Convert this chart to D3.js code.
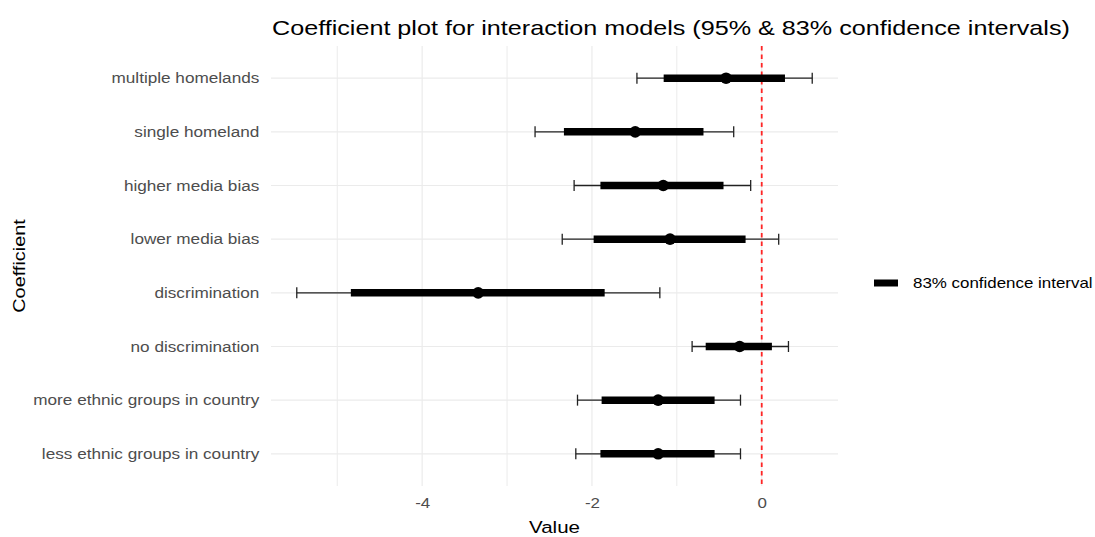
<!DOCTYPE html>
<html>
<head>
<meta charset="utf-8">
<script src="https://cdn.jsdelivr.net/npm/d3@7"></script>
<style>
  body { margin: 0; background: #fff; }
  svg { font-family: "Liberation Sans", Arial, sans-serif; }
</style>
</head>
<body>
<svg></svg>
<script>
// Datos
var w = 1095,
    h = 537;

var categories = ['multiple homelands', 'single homeland', 'higher media bias', 'lower media bias',
    'discrimination', 'no discrimination', 'more ethnic groups in country', 'less ethnic groups in country'];
var estimate = [-0.42, -1.49, -1.16, -1.08, -3.34, -0.26, -1.22, -1.22];
var lo95 = [-1.47, -2.67, -2.21, -2.35, -5.477, -0.82, -2.17, -2.19];
var hi95 = [0.595, -0.33, -0.13, 0.20, -1.20, 0.315, -0.25, -0.25];
var lo83 = [-1.155, -2.33, -1.90, -1.98, -4.84, -0.66, -1.886, -1.90];
var hi83 = [0.274, -0.686, -0.45, -0.19, -1.85, 0.12, -0.555, -0.555];
var majorTicks = [-4, -2, 0];
var minorTicks = [-5, -3, -1];

var rows = categories.map(function(c, i) {
    return { name: c, est: estimate[i], lo95: lo95[i], hi95: hi95[i], lo83: lo83[i], hi83: hi83[i] };
});

// Ajustes del canvas
var svg = d3.select('svg')
    .attr('width', w)
    .attr('height', h);

var panel = { left: 271, right: 838, top: 46, bottom: 486 };
var sx = 1.21; // el texto del original sale estirado a lo ancho

var xmin = d3.min(lo95), xmax = d3.max(hi95), pad = (xmax - xmin) * 0.05;
var xScale = d3.scaleLinear()
    .domain([xmin - pad, xmax + pad])
    .range([panel.left, panel.right]);
var yScale = d3.scalePoint()
    .domain(categories)
    .range([panel.top, panel.bottom])
    .padding(0.6);

// Rejilla
svg.selectAll('.minor')
    .data(minorTicks)
    .enter()
    .append('line')
    .attr('x1', function(d) { return xScale(d); })
    .attr('x2', function(d) { return xScale(d); })
    .attr('y1', panel.top)
    .attr('y2', panel.bottom)
    .attr('stroke', '#ebebeb')
    .attr('stroke-width', 1);

svg.selectAll('.major')
    .data(majorTicks)
    .enter()
    .append('line')
    .attr('x1', function(d) { return xScale(d); })
    .attr('x2', function(d) { return xScale(d); })
    .attr('y1', panel.top)
    .attr('y2', panel.bottom)
    .attr('stroke', '#ebebeb')
    .attr('stroke-width', 1.2);

svg.selectAll('.hgrid')
    .data(categories)
    .enter()
    .append('line')
    .attr('x1', panel.left)
    .attr('x2', panel.right)
    .attr('y1', function(d) { return yScale(d); })
    .attr('y2', function(d) { return yScale(d); })
    .attr('stroke', '#ebebeb')
    .attr('stroke-width', 1.2);

// Ejes
var xAxis = svg.append('g')
    .attr('transform', 'translate(0,' + panel.bottom + ')')
    .call(d3.axisBottom(xScale).tickValues(majorTicks).tickSize(0).tickPadding(12)
        .tickFormat(function(d) { return String(d); }));
xAxis.select('.domain').remove();
xAxis.selectAll('text')
    .attr('font-size', 14)
    .attr('fill', '#4d4d4d')
    .attr('transform', 'scale(' + sx + ',1)')
    .style('font-family', '"Liberation Sans", Arial, sans-serif');

var yAxis = svg.append('g')
    .attr('transform', 'translate(' + panel.left + ',0)')
    .call(d3.axisLeft(yScale).tickSize(0));
yAxis.select('.domain').remove();
yAxis.selectAll('text')
    .attr('x', -11.7 / 1.185)
    .attr('transform', 'scale(1.185,1)')
    .attr('font-size', 14.5)
    .attr('fill', '#4d4d4d')
    .style('font-family', '"Liberation Sans", Arial, sans-serif');

// Linea de referencia
svg.append('line')
    .attr('x1', xScale(0))
    .attr('x2', xScale(0))
    .attr('y1', panel.top)
    .attr('y2', panel.bottom)
    .attr('stroke', '#ff2525')
    .attr('stroke-width', 1.8)
    .attr('stroke-dasharray', '4.5,4');

// Intervalos 95%
var g95 = svg.selectAll('.ci95')
    .data(rows)
    .enter()
    .append('g');
g95.append('line')
    .attr('x1', function(d) { return xScale(d.lo95); })
    .attr('x2', function(d) { return xScale(d.hi95); })
    .attr('y1', function(d) { return yScale(d.name); })
    .attr('y2', function(d) { return yScale(d.name); })
    .attr('stroke', '#222')
    .attr('stroke-width', 1.3);
['lo95', 'hi95'].forEach(function(k) {
    g95.append('line')
        .attr('x1', function(d) { return xScale(d[k]); })
        .attr('x2', function(d) { return xScale(d[k]); })
        .attr('y1', function(d) { return yScale(d.name) - 5.5; })
        .attr('y2', function(d) { return yScale(d.name) + 5.5; })
        .attr('stroke', '#222')
        .attr('stroke-width', 1.3);
});

// Intervalos 83%
svg.selectAll('.ci83')
    .data(rows)
    .enter()
    .append('line')
    .attr('x1', function(d) { return xScale(d.lo83); })
    .attr('x2', function(d) { return xScale(d.hi83); })
    .attr('y1', function(d) { return yScale(d.name); })
    .attr('y2', function(d) { return yScale(d.name); })
    .attr('stroke', '#000')
    .attr('stroke-width', 7.5);

// Puntos
svg.selectAll('.pt')
    .data(rows)
    .enter()
    .append('circle')
    .attr('cx', function(d) { return xScale(d.est); })
    .attr('cy', function(d) { return yScale(d.name); })
    .attr('r', 5.8)
    .attr('fill', '#000');

// Titulos
svg.append('text')
    .attr('transform', 'translate(' + (panel.left + 1) + ',35) scale(1.228,1)')
    .attr('font-size', 20.5)
    .attr('fill', '#000')
    .text('Coefficient plot for interaction models (95% & 83% confidence intervals)');

svg.append('text')
    .attr('transform', 'translate(' + ((panel.left + panel.right) / 2) + ',533) scale(' + sx + ',1)')
    .attr('text-anchor', 'middle')
    .attr('font-size', 17)
    .attr('fill', '#000')
    .text('Value');

svg.append('text')
    .attr('transform', 'translate(25,' + ((panel.top + panel.bottom) / 2) + ') rotate(-90) scale(1.17,1)')
    .attr('text-anchor', 'middle')
    .attr('font-size', 17)
    .attr('fill', '#000')
    .text('Coefficient');

// Leyenda
var legY = 283;
svg.append('line')
    .attr('x1', 874)
    .attr('x2', 898)
    .attr('y1', legY)
    .attr('y2', legY)
    .attr('stroke', '#000')
    .attr('stroke-width', 7);
svg.append('text')
    .attr('transform', 'translate(913,' + (legY + 5) + ') scale(' + sx + ',1)')
    .attr('font-size', 14)
    .attr('fill', '#000')
    .text('83% confidence interval');
</script>
</body>
</html>
